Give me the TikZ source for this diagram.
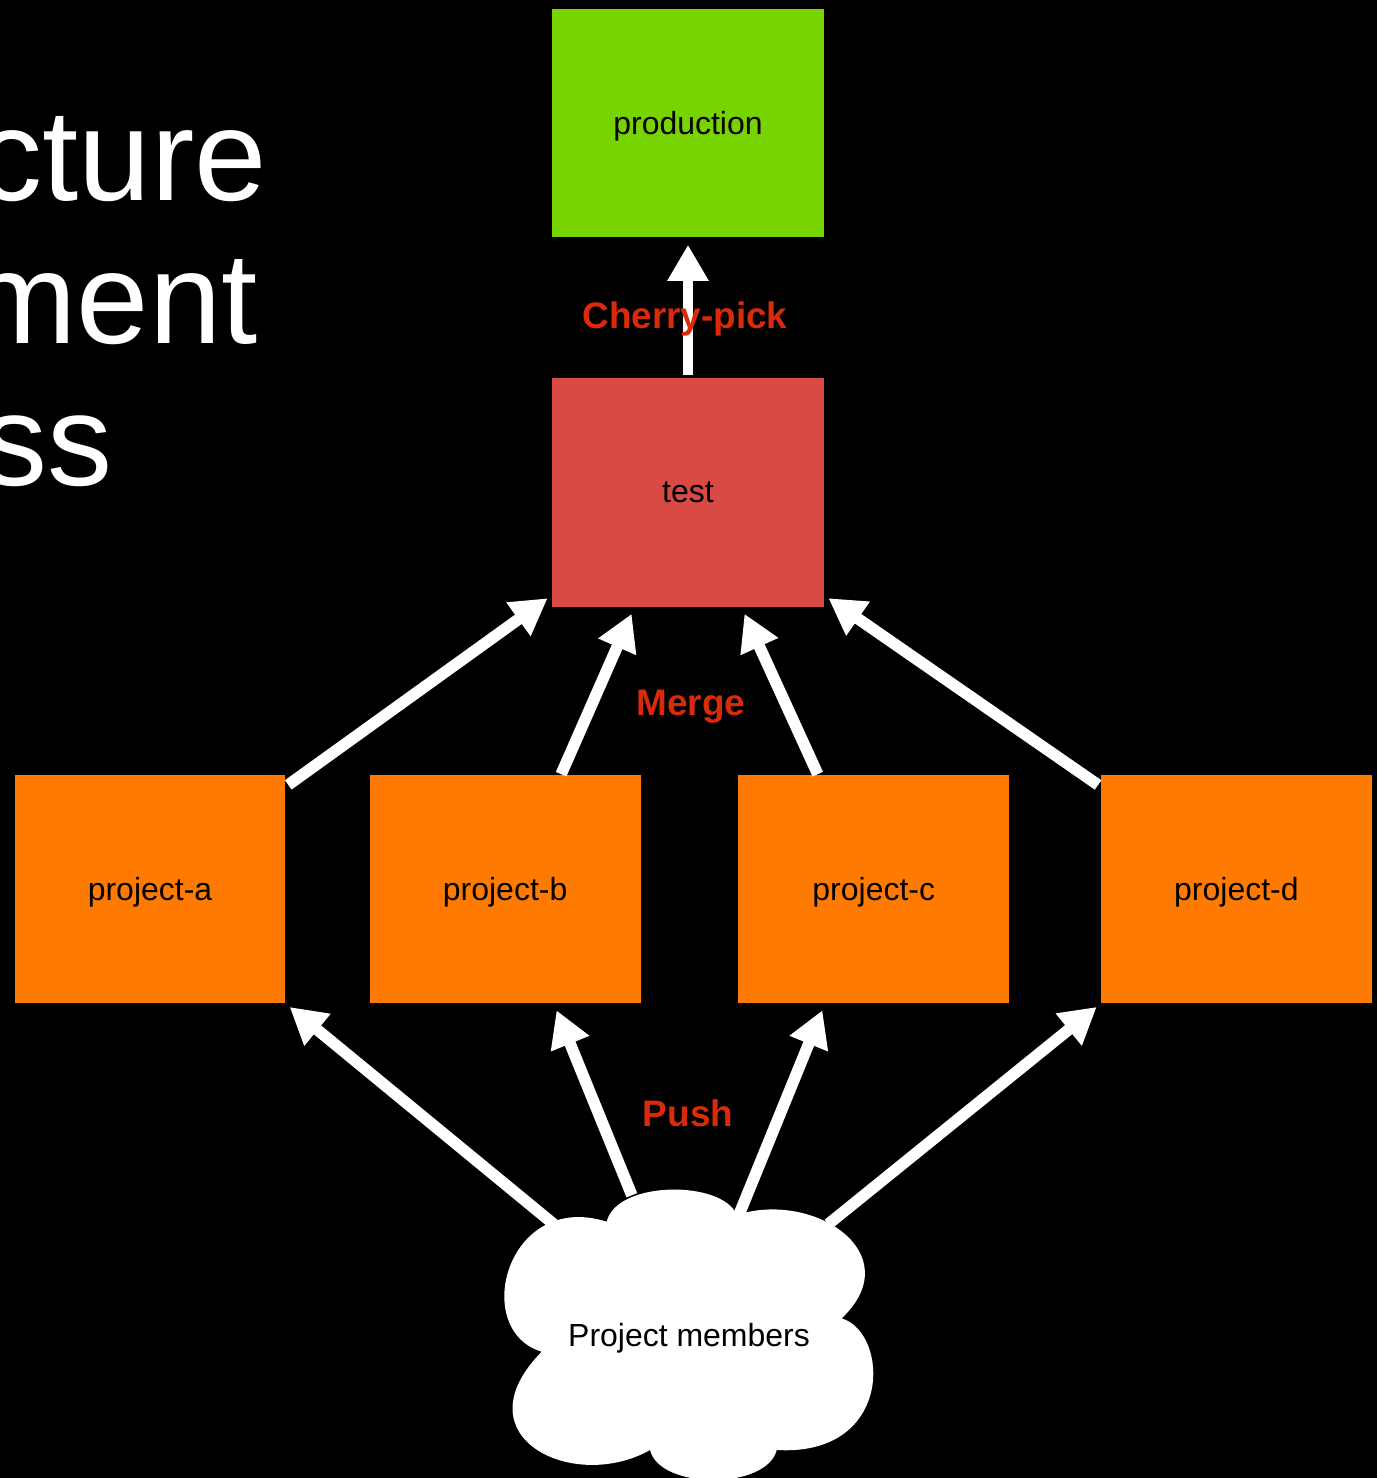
\documentclass[tikz,border=0pt]{standalone}
\usepackage{fontspec}
\setmainfont{Liberation Sans}
\usetikzlibrary{arrows.meta, positioning}

\definecolor{prodgreen}{HTML}{77D400}
\definecolor{testred}{HTML}{D84A43}
\definecolor{projorange}{HTML}{FF7A00}
\definecolor{labelred}{HTML}{D92B0A}

\begin{document}
\begin{tikzpicture}[
  x=0.02cm, y=-0.02cm,
  node distance=2.8cm and 1.67cm,
  box/.style={rectangle, inner sep=0pt, minimum width=5.44cm, minimum height=4.58cm, align=center, font=\fontsize{18.2}{22}\selectfont, text=black},
  projbox/.style={box, fill=projorange, minimum width=5.42cm, text depth=0pt},
  flow/.style={-{Triangle[width=0.78cm, length=0.72cm]}, draw=white, line width=0.23cm, shorten >=0.1cm, shorten <=0.06cm},
  steplabel/.style={font=\fontsize{21}{25}\selectfont\bfseries, text=labelred},
  headline/.style={anchor=base east, inner sep=0pt, font=\fontsize{74}{88}\selectfont, text=white}
]
\useasboundingbox (0,0) rectangle (1377,1478);
\clip (0,0) rectangle (1377,1478);
\fill[black] (0,0) rectangle (1377,1478);

% Cut-off slide title
\node[headline] (titleone) at (267,200) {cture};
\node[headline] (titletwo) at (258,343) {ment};
\node[headline] (titlethree) at (113,485) {ss};

% Nodes
\node[box, fill=prodgreen, text depth=0pt] (production) at (688,123) {production};
\node[box, fill=testred, below=of production] (test) {test};
\node[projbox] (projecta) at (150,889) {project-a};
\node[projbox, right=of projecta] (projectb) {project-b};
\node[projbox, right=1.94cm of projectb] (projectc) {project-c};
\node[projbox, right=1.82cm of projectc] (projectd) {project-d};

% Where the push arrows leave the cloud
\coordinate (pusha) at (556,1226);
\coordinate (pushb) at (633,1198);
\coordinate (pushc) at (736,1222);
\coordinate (pushd) at (826,1226);

% Arrows
\draw[flow, line width=0.2cm, shorten >=0.14cm] (test.north) -- (production.south);
\draw[flow] (projecta.37) -- (test.-143);
\draw[flow, shorten >=0.14cm, shorten <=0pt] (projectb.64) -- (test.-115);
\draw[flow, shorten >=0.14cm, shorten <=0pt] (projectc.116) -- (test.-65);
\draw[flow] (projectd.143) -- (test.-37);
\draw[flow] (pusha) -- (projecta.south east);
\draw[flow, shorten >=0.14cm] (pushb) -- (projectb.-67);
\draw[flow, shorten >=0.14cm] (pushc) -- (projectc.-113);
\draw[flow] (pushd) -- (projectd.south west);

% Cloud
\fill[white] (606.7,1221.7)
  .. controls (616.7,1180) and (723,1180) .. (736.7,1215)
  .. controls (813.3,1190) and (910,1253.3) .. (841.7,1318.3)
  .. controls (890,1333.3) and (893.3,1456.7) .. (776.7,1450)
  .. controls (766.7,1490) and (660,1490) .. (650,1450)
  .. controls (573.3,1493.3) and (458,1436.7) .. (541.7,1351.7)
  .. controls (470,1330) and (506.7,1190) .. (606.7,1221.7) -- cycle;
\node[font=\fontsize{18.2}{22}\selectfont, text=black] (members) at (689,1338) {Project members};

% Labels
\node[steplabel] (cherrylabel) at (685,319) {Cherry-pick};
\node[steplabel] (mergelabel) at (691,707) {Merge};
\node[steplabel] (pushlabel) at (688,1113) {Push};
\end{tikzpicture}
\end{document}
